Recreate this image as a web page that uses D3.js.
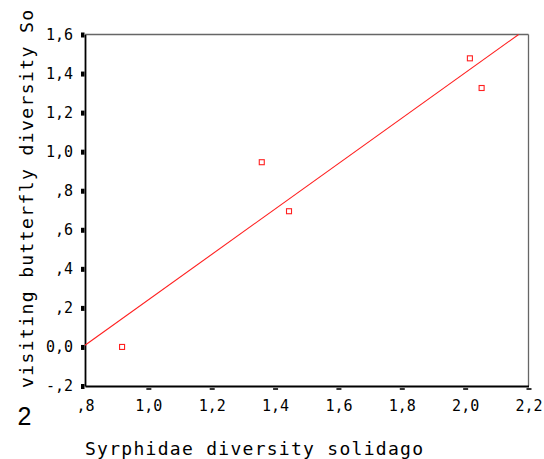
<!DOCTYPE html>
<html>
<head>
<meta charset="utf-8">
<script src="https://cdn.jsdelivr.net/npm/d3@7"></script>
<style>
  html, body { margin: 0; padding: 0; background: #fff; }
  svg { display: block; }
</style>
</head>
<body>
<svg id="chart" width="544" height="459"></svg>
<script>
// Syrphidae diversity vs. visiting butterfly diversity on Solidago
const syrphidDiversity   = [0.917, 1.358, 1.444, 2.015, 2.052];
const butterflyDiversity = [0.000, 0.946, 0.695, 1.478, 1.326];
const xTickValues = [0.8, 1.0, 1.2, 1.4, 1.6, 1.8, 2.0, 2.2];
const yTickValues = [-0.2, 0.0, 0.2, 0.4, 0.6, 0.8, 1.0, 1.2, 1.4, 1.6];
const xTitle = "Syrphidae diversity solidago";
const yTitle = "visiting butterfly diversity So";
const panelLabel = "2";

const svg = d3.select("#chart");
const plot = { left: 85, right: 528.5, top: 34.5, bottom: 386 };

const x = d3.scaleLinear().domain([0.8, 2.2]).range([plot.left, plot.right]);
const y = d3.scaleLinear().domain([-0.2, 1.6]).range([plot.bottom, plot.top]);

// SPSS-style number format: comma decimal, no leading zero below 1
function fmt(v) {
  let s = d3.format(".1f")(Math.abs(v)).replace(".", ",");
  if (Math.abs(v) < 1 && Math.abs(v) > 1e-9) s = s.replace(/^0/, "");
  return (v < -1e-9 ? "-" : "") + s;
}

const mono = "'DejaVu Sans Mono', monospace";

// frame: top and right edges in grey
svg.append("line").attr("x1", plot.left).attr("x2", plot.right).attr("y1", plot.top).attr("y2", plot.top)
  .attr("stroke", "#666").attr("stroke-width", 1.3);
svg.append("line").attr("x1", plot.right).attr("x2", plot.right).attr("y1", plot.top).attr("y2", plot.bottom)
  .attr("stroke", "#666").attr("stroke-width", 1.3);

// x axis
const xAxis = d3.axisBottom(x).tickValues(xTickValues).tickSize(0).tickPadding(14).tickFormat(fmt);
const gx = svg.append("g").attr("transform", `translate(0,${plot.bottom})`).call(xAxis);
gx.select(".domain").attr("stroke", "#000").attr("stroke-width", 1.8);
gx.selectAll(".tick text").attr("font-family", mono).attr("font-size", 15).attr("fill", "#000");
gx.selectAll(".tick").filter(d => d > 0.81).append("line")
  .attr("x1", -2.5).attr("x2", 2.5).attr("y1", 3).attr("y2", 3)
  .attr("stroke", "#000").attr("stroke-width", 1.6);

// y axis
const yAxis = d3.axisLeft(y).tickValues(yTickValues).tickSize(0).tickPadding(12).tickFormat(fmt);
const gy = svg.append("g").attr("transform", `translate(${plot.left},0)`).call(yAxis);
gy.select(".domain").attr("stroke", "#000").attr("stroke-width", 1.8);
gy.selectAll(".tick text").attr("font-family", mono).attr("font-size", 15).attr("fill", "#000");
gy.selectAll(".tick").append("rect")
  .attr("x", -4).attr("y", -2.5).attr("width", 3.5).attr("height", 5)
  .attr("fill", "#000");

// least-squares fit line, clipped to the plot area
const mx = d3.mean(syrphidDiversity), my = d3.mean(butterflyDiversity);
const sxy = d3.sum(syrphidDiversity, (v, i) => (v - mx) * (butterflyDiversity[i] - my));
const sxx = d3.sum(syrphidDiversity, v => (v - mx) * (v - mx));
const slope = sxy / sxx, intercept = my - slope * mx;
const xStart = 0.8;
const xEnd = Math.min(2.2, (1.6 - intercept) / slope);
svg.append("line")
  .attr("x1", x(xStart)).attr("y1", y(intercept + slope * xStart))
  .attr("x2", x(xEnd)).attr("y2", y(intercept + slope * xEnd))
  .attr("stroke", "#ff2020").attr("stroke-width", 1.1);

// observations as open squares
svg.selectAll("rect.pt").data(syrphidDiversity).join("rect")
  .attr("class", "pt")
  .attr("x", (d) => x(d) - 2.5)
  .attr("y", (d, i) => y(butterflyDiversity[i]) - 2.5)
  .attr("width", 5).attr("height", 5)
  .attr("fill", "#fff").attr("stroke", "#ff2020").attr("stroke-width", 1.1);

// titles
svg.append("text").attr("x", 85).attr("y", 455)
  .attr("font-family", mono).attr("font-size", 18)
  .attr("textLength", 338).attr("lengthAdjust", "spacing")
  .text(xTitle);

svg.append("text")
  .attr("transform", "translate(33,388) rotate(-90)")
  .attr("font-family", mono).attr("font-size", 18)
  .attr("textLength", 378).attr("lengthAdjust", "spacing")
  .text(yTitle);

svg.append("text").attr("x", 24.5).attr("y", 425)
  .attr("text-anchor", "middle")
  .attr("font-family", "'Liberation Sans', Arial, sans-serif").attr("font-size", 25)
  .text(panelLabel);
</script>
</body>
</html>
